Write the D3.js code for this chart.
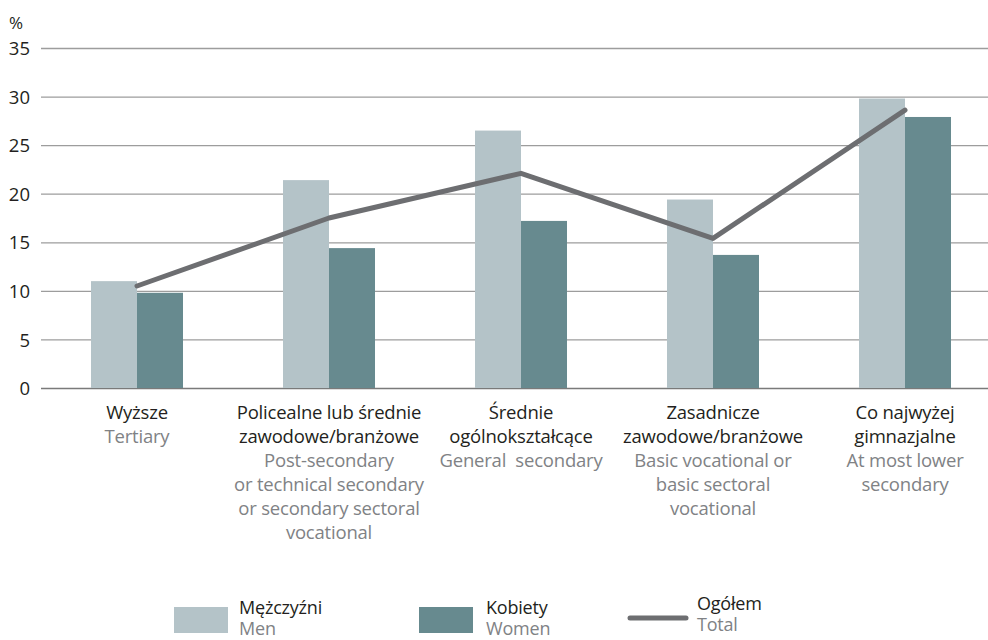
<!DOCTYPE html>
<html><head><meta charset="utf-8">
<script src="https://cdn.jsdelivr.net/npm/d3@7"></script>
<style>
html,body{margin:0;padding:0;background:#fff;}
svg text{font-family:"Open Sans",Lato,sans-serif;}
</style></head>
<body><svg id="chart" width="988" height="640"></svg>
<script>
const categoriesPl = [["Wyższe"], ["Policealne lub średnie","zawodowe/branżowe"], ["Średnie","ogólnokształcące"], ["Zasadnicze","zawodowe/branżowe"], ["Co najwyżej","gimnazjalne"]];
const categoriesEn = [["Tertiary"], ["Post-secondary","or technical secondary","or secondary sectoral","vocational"], ["General  secondary"], ["Basic vocational or","basic sectoral","vocational"], ["At most lower","secondary"]];
const men = [11.0, 21.4, 26.5, 19.4, 29.8];
const women = [9.8, 14.4, 17.2, 13.7, 27.9];
const total = [10.5, 17.5, 22.1, 15.4, 28.6];
const yTicks = [0, 5, 10, 15, 20, 25, 30, 35];
const legendPl = ["Mężczyźni", "Kobiety", "Ogółem"];
const legendEn = ["Men", "Women", "Total"];

const colMen = "#b4c3c8", colWomen = "#678a8f", colLine = "#6d6e71";
const colDark = "#231f20", colGray = "#808285";

const svg = d3.select("#chart");
const idx = d3.range(men.length);
const x0 = d3.scaleBand().domain(idx).range([41, 1001]).paddingInner(0.5208).paddingOuter(0.2604);
const x1 = d3.scaleBand().domain(["m","w"]).range([0, x0.bandwidth()]).padding(0);
const y = d3.scaleLinear().domain([0, 35]).range([388, 48]);

// grid
const yAxis = d3.axisLeft(y).tickValues(yTicks).tickSize(-(988-41)).tickPadding(11).tickFormat(d3.format("d"));
const ga = svg.append("g").attr("transform","translate(41,0)").call(yAxis);
ga.select(".domain").remove();
ga.selectAll(".tick line").attr("stroke", d => d===0 ? "#7a7a7a" : "#9d9d9d").attr("stroke-width", d => d===0 ? 1.6 : 1.3);
ga.selectAll(".tick text").attr("fill", colDark).style("font-size","18.5px").attr("x", -11).attr("dy","0.36em");
svg.append("text").attr("x", 9).attr("y", 29).attr("fill", colDark).style("font-size","17px").text("%");

// bars
const g = svg.append("g");
g.selectAll("rect.m").data(idx).join("rect").attr("class","m")
  .attr("x", i => x0(i) + x1("m")).attr("width", x1.bandwidth())
  .attr("y", i => y(men[i])).attr("height", i => y(0) - y(men[i])).attr("fill", colMen);
g.selectAll("rect.w").data(idx).join("rect").attr("class","w")
  .attr("x", i => x0(i) + x1("w")).attr("width", x1.bandwidth())
  .attr("y", i => y(women[i])).attr("height", i => y(0) - y(women[i])).attr("fill", colWomen);

// line
const line = d3.line().x(i => x0(i) + x0.bandwidth()/2).y(i => y(total[i]));
svg.append("path").datum(idx).attr("d", line).attr("fill","none").attr("stroke", colLine)
  .attr("stroke-width", 5).attr("stroke-linecap","round").attr("stroke-linejoin","round");

// category labels
const lab = svg.append("g");
idx.forEach(i => {
  const cx = x0(i) + x0.bandwidth()/2;
  const lines = categoriesPl[i].map(t => ({t, c: colDark})).concat(categoriesEn[i].map(t => ({t, c: colGray})));
  lines.forEach((l, k) => {
    lab.append("text").attr("x", cx).attr("y", 419 + k*24).attr("text-anchor","middle")
      .attr("fill", l.c).style("font-size","18.5px").style("letter-spacing","-0.2px").style("white-space","pre").text(l.t);
  });
});

// legend
const lg = svg.append("g");
const legX = [174, 419, 628];
const legTextX = [239, 486, 697];
[0,1].forEach(k => {
  lg.append("rect").attr("x", legX[k]).attr("y", 607).attr("width", 54).attr("height", 26)
    .attr("fill", k===0 ? colMen : colWomen);
});
lg.append("line").attr("x1", legX[2]+2).attr("x2", 686).attr("y1", 618).attr("y2", 618)
  .attr("stroke", colLine).attr("stroke-width", 5).attr("stroke-linecap","round");
legendPl.forEach((t, k) => {
  const by = k===2 ? 610 : 614;
  lg.append("text").attr("x", legTextX[k]).attr("y", by).attr("fill", colDark).style("font-size","18px").style("letter-spacing","-0.2px").text(t);
  lg.append("text").attr("x", legTextX[k]).attr("y", by+21).attr("fill", colGray).style("font-size","18px").style("letter-spacing","-0.2px").text(legendEn[k]);
});
</script></body></html>
